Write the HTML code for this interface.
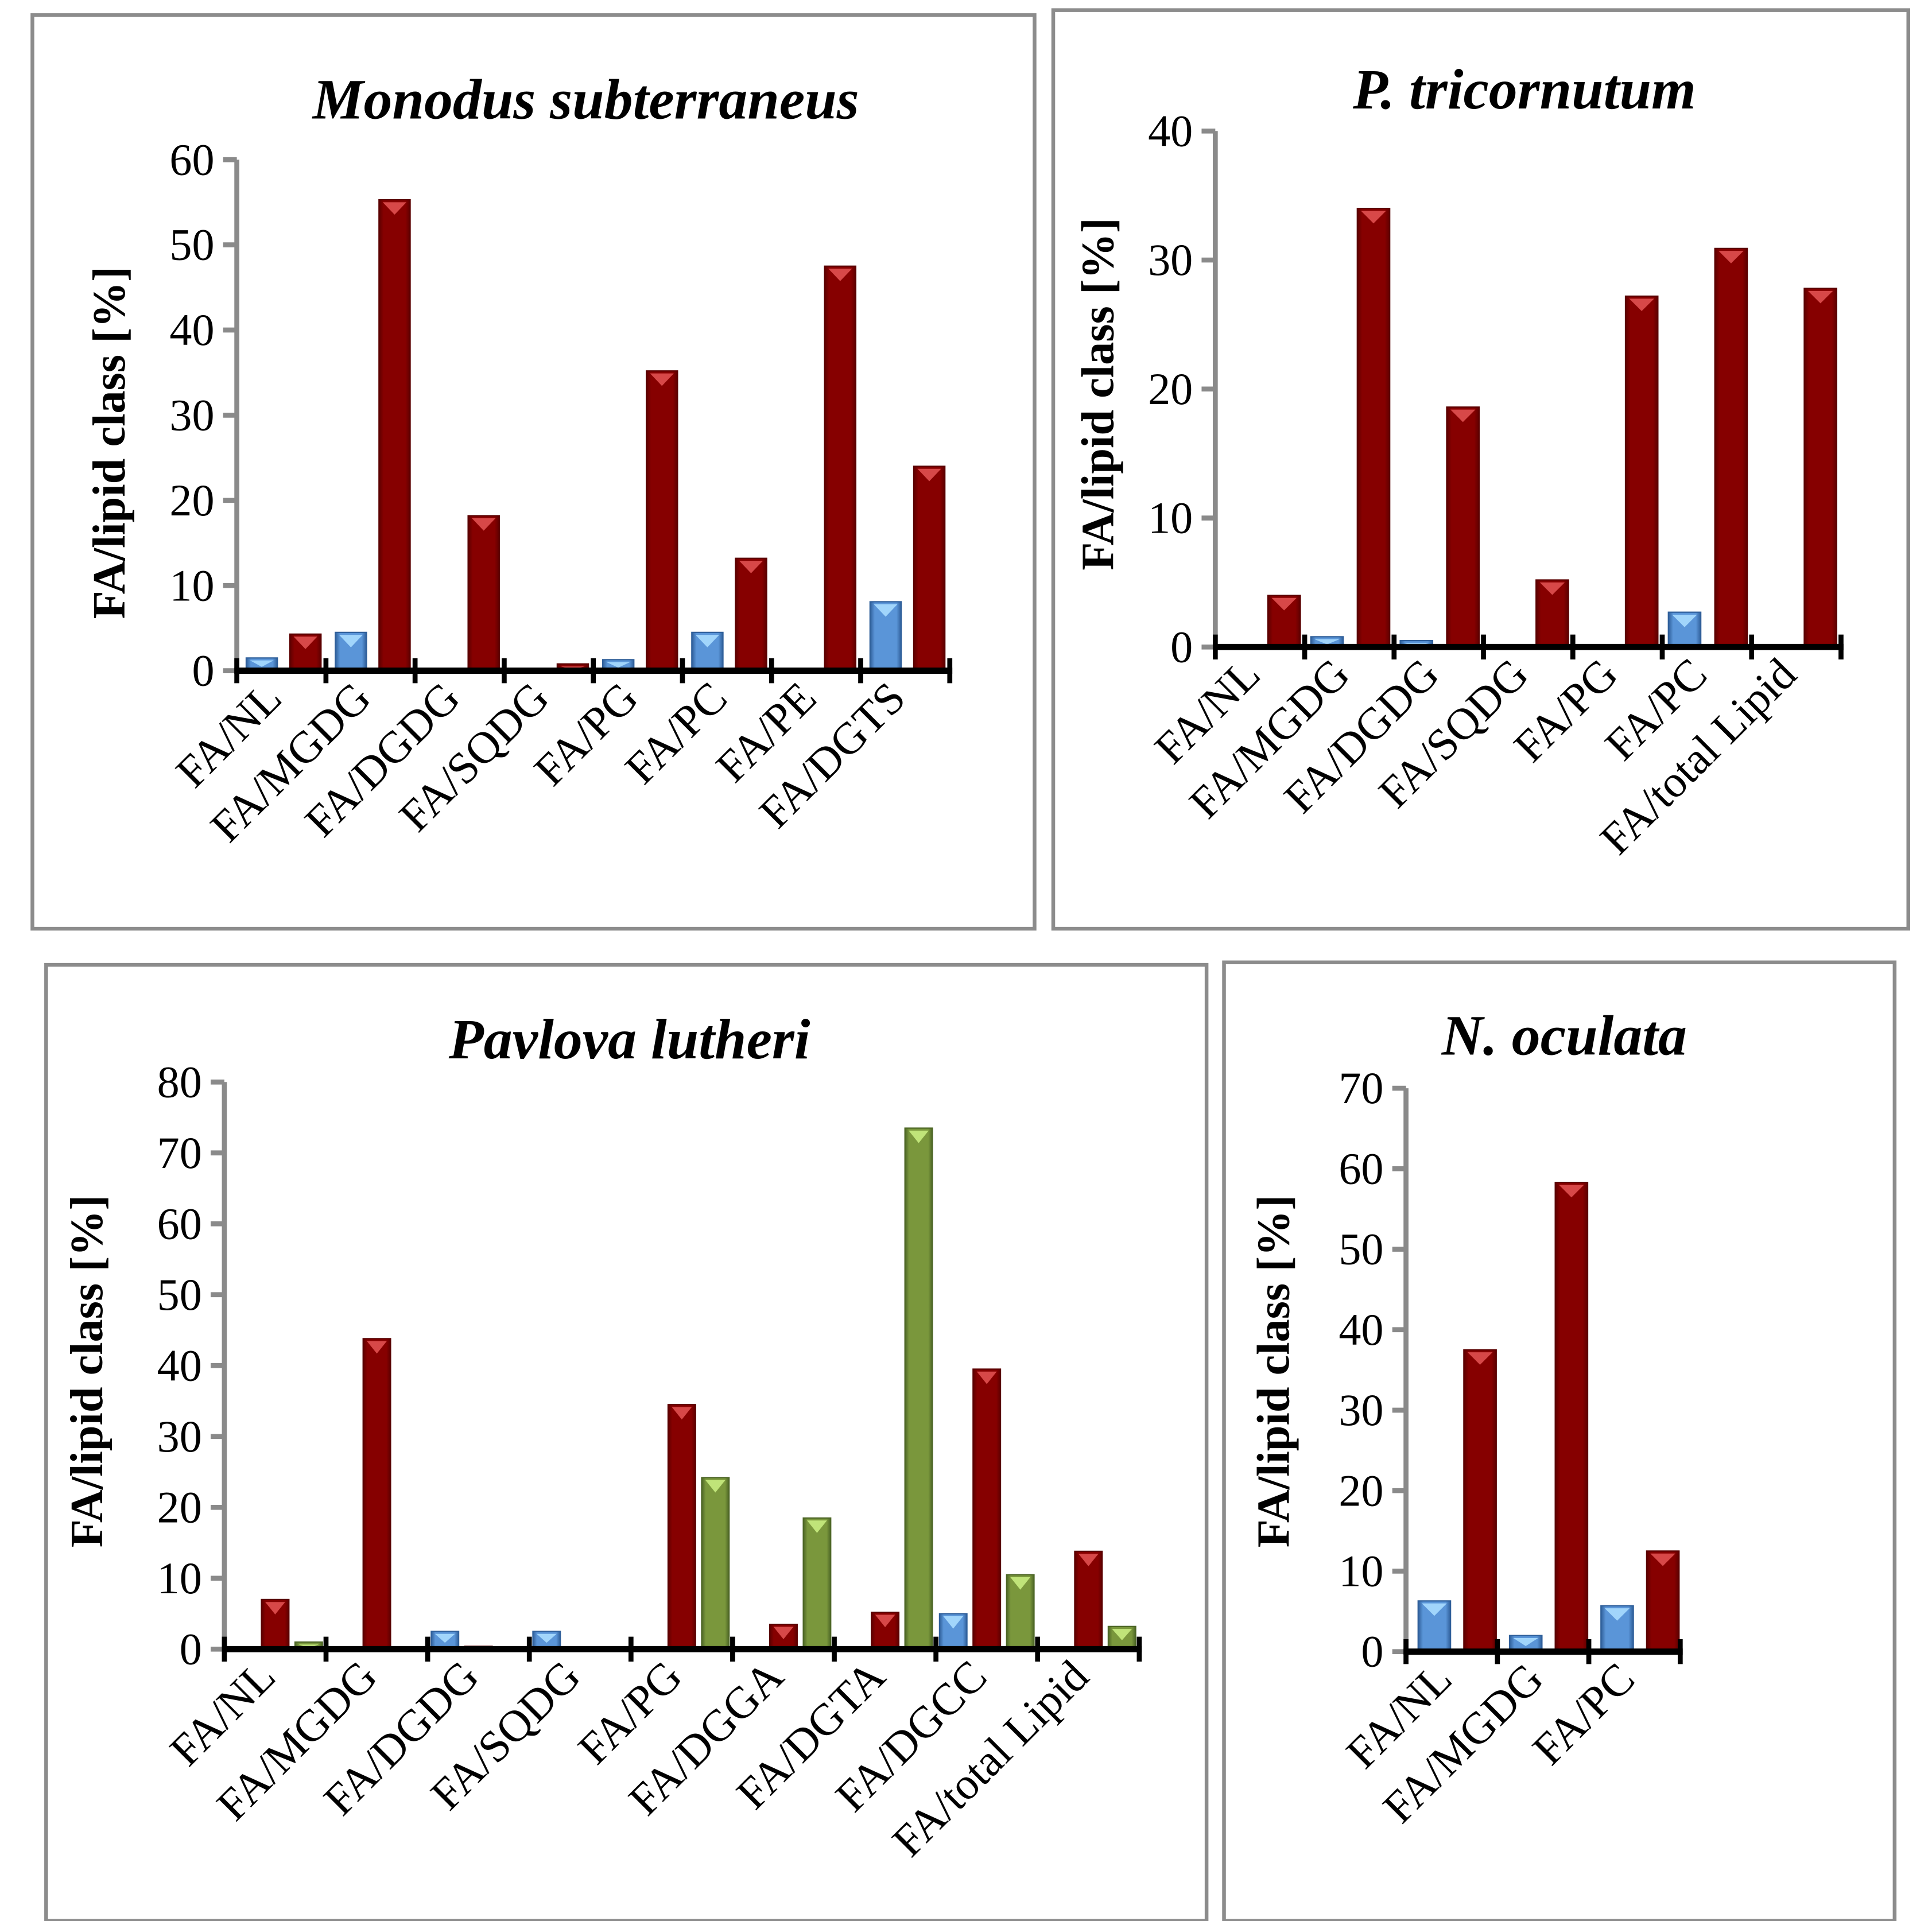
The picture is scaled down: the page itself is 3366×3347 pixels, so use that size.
<!DOCTYPE html>
<html><head><meta charset="utf-8"><style>
html,body{margin:0;padding:0;background:#fff}
svg{display:block}
text{font-family:"Liberation Serif",serif;fill:#000}
</style></head><body>
<svg id="fig" width="3366" height="3347" viewBox="0 0 1550 1541" xmlns="http://www.w3.org/2000/svg">
<defs>
<linearGradient id="gRed" x1="0" x2="1"><stop offset="0" stop-color="#5e0000"/><stop offset="0.15" stop-color="#860000"/><stop offset="0.85" stop-color="#860000"/><stop offset="1" stop-color="#5e0000"/></linearGradient>
<linearGradient id="gBlue" x1="0" x2="1"><stop offset="0" stop-color="#2f5f9a"/><stop offset="0.15" stop-color="#5a95d8"/><stop offset="0.85" stop-color="#5a95d8"/><stop offset="1" stop-color="#2f5f9a"/></linearGradient>
<linearGradient id="gGreen" x1="0" x2="1"><stop offset="0" stop-color="#4d6626"/><stop offset="0.15" stop-color="#7a973c"/><stop offset="0.85" stop-color="#7a973c"/><stop offset="1" stop-color="#4d6626"/></linearGradient>
</defs>
</svg>
<script>
// Monodus subterraneus
const monCats = ["FA/NL","FA/MGDG","FA/DGDG","FA/SQDG","FA/PG","FA/PC","FA/PE","FA/DGTS"];
const monBlue = [1.5,4.5,0,0,1.3,4.5,0,8.1];
const monRed  = [4.3,55.3,18.2,0.8,35.2,13.2,47.5,24];
const monTicks = [0,10,20,30,40,50,60];
// P. tricornutum
const phaCats = ["FA/NL","FA/MGDG","FA/DGDG","FA/SQDG","FA/PG","FA/PC","FA/total Lipid"];
const phaBlue = [0,0.8,0.5,0,0,2.7,0];
const phaRed  = [4,34,18.6,5.2,27.2,30.9,27.8];
const phaTicks = [0,10,20,30,40];
// Pavlova lutheri
const pavCats = ["FA/NL","FA/MGDG","FA/DGDG","FA/SQDG","FA/PG","FA/DGGA","FA/DGTA","FA/DGCC","FA/total Lipid"];
const pavBlue  = [0,0,2.5,2.5,0.3,0.3,0,5,0.3];
const pavRed   = [7,43.8,0.4,0.3,34.5,3.5,5.2,39.5,13.8];
const pavGreen = [1,0,0,0,24.2,18.5,73.5,10.5,3.2];
const pavTicks = [0,10,20,30,40,50,60,70,80];
// N. oculata
const nocCats = ["FA/NL","FA/MGDG","FA/PC"];
const nocBlue = [6.3,2,5.7];
const nocRed  = [37.5,58.3,12.5];
const nocTicks = [0,10,20,30,40,50,60,70];

const NS="http://www.w3.org/2000/svg";
const svg=document.getElementById('fig');
function mk(tag,attrs,parent){const e=document.createElementNS(NS,tag);for(const k in attrs)e.setAttribute(k,attrs[k]);(parent||svg).appendChild(e);return e;}

function panel(cfg){
  const g=mk('g',{});
  
  
  const box=mk('rect',{x:cfg.box[0],y:cfg.box[1],width:cfg.box[2]-cfg.box[0],height:cfg.box[3]-cfg.box[1],fill:'none',stroke:'#8c8c8c','stroke-width':3},g);
  
  
  const t=mk('text',{x:cfg.titleX,y:cfg.titleY,'text-anchor':'middle','font-size':46,'font-weight':'bold','font-style':'italic'},g);
  t.textContent=cfg.title;
  
  
  const x0=cfg.x0,x1=cfg.x1,yb=cfg.yb,yt=cfg.yt,max=cfg.ticks[cfg.ticks.length-1];
  const yS=v=>yb-(v/max)*(yb-yt);
  const n=cfg.cats.length,cw=(x1-x0)/n;
  const ya=mk('line',{x1:x0,y1:yt,x2:x0,y2:yb,stroke:'#8a8a8a','stroke-width':4},g);
  
  
  cfg.ticks.forEach(v=>{
    const tk=mk('line',{x1:x0-11,y1:yS(v),x2:x0,y2:yS(v),stroke:'#8a8a8a','stroke-width':4},g);
    
    
    const tl=mk('text',{x:x0-18,y:yS(v)+12,'text-anchor':'end','font-size':36},g);
    tl.textContent=v;
    
    
  });
  const yt2=mk('text',{x:0,y:0,'text-anchor':'middle','font-size':37,'font-weight':'bold',transform:`translate(${cfg.ytX},${cfg.ytY}) rotate(-90)`},g);
  yt2.textContent='FA/lipid class [%]';
  
  
  cfg.series.forEach(s=>{
    s.vals.forEach((v,i)=>{
      if(v<=0)return;
      const cx=x0+i*cw+s.off*cw, w=cfg.bw, y=yS(v), h=yb-y;
      const r=mk('rect',{x:cx-w/2,y:y,width:w,height:h,fill:s.grad,stroke:s.edge,'stroke-width':1},g);
      
      
      if(h>4){
        const th=Math.min(h*0.5,10);
        const tri=mk('polygon',{points:`${cx-w/2+3},${y+2} ${cx+w/2-3},${y+2} ${cx},${y+2+th}`,fill:s.light,opacity:0.9},g);
        
        
      }
    });
  });
  const xa=mk('line',{x1:x0-2,y1:yb,x2:x1+2,y2:yb,stroke:'#000','stroke-width':5},g);
  
  
  for(let i=0;i<=n;i++){
    const tk=mk('line',{x1:x0+i*cw,y1:yb-10,x2:x0+i*cw,y2:yb+10,stroke:'#000','stroke-width':4},g);
    
    
  }
  cfg.cats.forEach((c,i)=>{
    const cx=x0+i*cw+cw*0.5+2, cy=yb+24;
    const tl=mk('text',{x:0,y:0,'text-anchor':'end','font-size':36,transform:`translate(${cx},${cy}) rotate(-45)`},g);
    tl.textContent=c;
    
    
  });
}
const B={name:'blue',grad:'url(#gBlue)',edge:'#2f5f9a',light:'#a8dcff'};
const R={name:'red',grad:'url(#gRed)',edge:'#5a0000',light:'#e05050'};
const G={name:'green',grad:'url(#gGreen)',edge:'#4d6626',light:'#c8ec80'};
panel({id:'monodus',box:[26,12,830,745],title:'Monodus subterraneus',titleX:470,titleY:95,x0:190,x1:762,yb:538,yt:128,ticks:monTicks,cats:monCats,bw:25,ytX:100,ytY:355,
  series:[Object.assign({vals:monBlue,off:0.28},B),Object.assign({vals:monRed,off:0.77},R)]});
panel({id:'tricornutum',box:[845,8,1531,745],title:'P. tricornutum',titleX:1223,titleY:87,x0:975,x1:1477,yb:519,yt:105,ticks:phaTicks,cats:phaCats,bw:26,ytX:893,ytY:316,
  series:[Object.assign({vals:phaBlue,off:0.25},B),Object.assign({vals:phaRed,off:0.77},R)]});
panel({id:'pavlova',box:[37,774,968,1541],title:'Pavlova lutheri',titleX:505,titleY:849,x0:180,x1:914,yb:1323,yt:868,ticks:pavTicks,cats:pavCats,bw:22,ytX:82,ytY:1100,
  series:[Object.assign({vals:pavBlue,off:0.17},B),Object.assign({vals:pavRed,off:0.5},R),Object.assign({vals:pavGreen,off:0.83},G)]});
panel({id:'oculata',box:[982,772,1520,1541],title:'N. oculata',titleX:1255,titleY:846,x0:1128,x1:1348,yb:1325,yt:873,ticks:nocTicks,cats:nocCats,bw:26,ytX:1034,ytY:1100,
  series:[Object.assign({vals:nocBlue,off:0.31},B),Object.assign({vals:nocRed,off:0.81},R)]});
</script>
</body></html>
